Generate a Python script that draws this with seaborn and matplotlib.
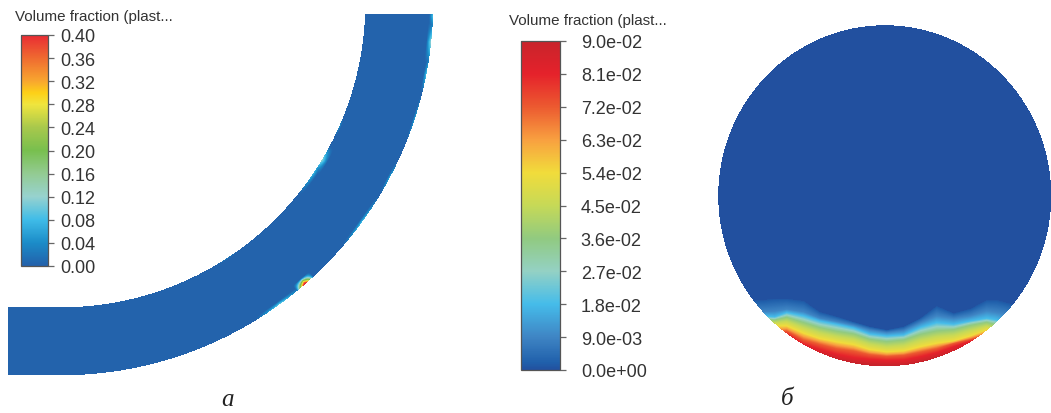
# Volume fraction fields: bend of the pipe (a) and pipe cross section (б)
import numpy as np
import seaborn as sns
import matplotlib.pyplot as plt
from matplotlib.colors import LinearSegmentedColormap

W, H = 1051, 414

# colour scale a
levels_a = [0.0, 0.04, 0.08, 0.12, 0.16, 0.20, 0.24, 0.28, 0.30, 0.32, 0.36, 0.40]
colors_a = ['#2360aa', '#1b8cc8', '#3fbce8', '#97d2cf', '#93cb92', '#78bf4e',
            '#a8c84c', '#f0e53e', '#fdd017', '#f8a72f', '#ef6b30', '#e92b33']
ticks_a = [0.00, 0.04, 0.08, 0.12, 0.16, 0.20, 0.24, 0.28, 0.32, 0.36, 0.40]
ticklabels_a = ['0.00', '0.04', '0.08', '0.12', '0.16', '0.20', '0.24', '0.28', '0.32', '0.36', '0.40']

# colour scale б
levels_b = [0.0, 0.002, 0.009, 0.018, 0.027, 0.036, 0.045, 0.054, 0.063, 0.072, 0.081, 0.09]
colors_b = ['#22509f', '#2060ab', '#3f85c4', '#45bcea', '#94d1c4', '#91ca80',
            '#c6d957', '#f1dc3b', '#f8a040', '#ec5a30', '#e5222b', '#c8232b']
ticks_b = [0.0, 0.009, 0.018, 0.027, 0.036, 0.045, 0.054, 0.063, 0.072, 0.081, 0.09]
ticklabels_b = ['0.0e+00', '9.0e-03', '1.8e-02', '2.7e-02', '3.6e-02', '4.5e-02',
                '5.4e-02', '6.3e-02', '7.2e-02', '8.1e-02', '9.0e-02']

# bend a: background fraction and the spots at the wall
# angle from the downward direction (deg), half width (deg), peak, depth into wall (px)
base_a = 0.003
outer_angle = [41.0, 36.0, 54.0, 62.0, 72.0, 79.0, 84.0, 88.0]
outer_width = [1.7, 4.5, 5.0, 3.0, 4.0, 3.0, 3.5, 2.0]
outer_peak = [0.50, 0.11, 0.09, 0.07, 0.06, 0.09, 0.13, 0.09]
outer_depth = [7.0, 3.5, 3.0, 2.5, 2.0, 3.0, 5.0, 4.0]
inner_angle = [59.0, 56.0, 66.0, 33.0]
inner_width = [3.0, 5.0, 2.0, 3.0]
inner_peak = [0.13, 0.08, 0.05, 0.03]
inner_depth = [6.0, 4.0, 2.0, 1.5]

# section б: rows of each iso-line, read at stations across the disc
station_x = [-135, -121, -110, -98, -81, -65, -48, -31, -15, 2, 19, 36, 52, 69, 86, 102, 112, 122, 135]
line_001 = [92, 92, 88, 88, 95, 128, 142, 158, 172, 182, 172, 146, 110, 132, 118, 92, 92, 100, 110]
line_009 = [128, 128, 126, 120, 128, 147, 157, 168, 182, 190, 184, 160, 140, 148, 140, 125, 130, 135, 135]
line_018 = [140, 140, 143, 130, 140, 155, 165, 176, 194, 200, 197, 174, 160, 165, 155, 147, 152, 168, 168]
line_027 = [146, 146, 148, 137, 150, 165, 175, 185, 202, 208, 204, 184, 172, 173, 161, 153, 159, 173, 173]
line_036 = [150, 150, 152, 144, 160, 175, 186, 194, 210, 217, 212, 195, 185, 181, 168, 159, 167, 178, 178]
line_045 = [160, 160, 160, 156, 175, 190, 201, 209, 224, 232, 228, 212, 202, 197, 183, 170, 178, 184, 184]
line_054 = [170, 170, 170, 170, 192, 208, 218, 226, 241, 248, 245, 232, 222, 215, 200, 182, 190, 190, 190]
line_063 = [180, 180, 180, 178, 202, 216, 228, 236, 249, 255, 252, 240, 230, 219, 205, 189, 195, 195, 195]
line_072 = [190, 190, 190, 185, 212, 225, 238, 245, 256, 261, 258, 248, 238, 222, 210, 195, 200, 200, 200]
line_081 = [200, 200, 200, 195, 225, 240, 255, 265, 270, 273, 272, 262, 250, 232, 215, 205, 210, 210, 210]
line_090 = [215, 215, 215, 210, 240, 255, 270, 280, 285, 288, 287, 277, 265, 247, 230, 220, 225, 225, 225]
iso_levels = [0.0008, 0.009, 0.018, 0.027, 0.036, 0.045, 0.054, 0.063, 0.072, 0.081, 0.09]
iso_lines = [line_001, line_009, line_018, line_027, line_036, line_045,
             line_054, line_063, line_072, line_081, line_090]

sns.set_theme(style='white')
plt.rcParams['font.family'] = ['Liberation Sans', 'DejaVu Sans']
plt.rcParams['text.color'] = '#333333'


def px_axes(fig, x0, y0, x1, y1):
    # axes from a box in picture pixels
    return fig.add_axes([x0 / W, 1 - y1 / H, (x1 - x0) / W, (y1 - y0) / H])


def make_cmap(name, levels, colors):
    stops = [v / levels[-1] for v in levels]
    return LinearSegmentedColormap.from_list(name, list(zip(stops, colors)), N=512)


def field_heatmap(fig, field, mask, box, cbar_box, cmap, vmax, ticks, labels, pad):
    ax = px_axes(fig, *box)
    cax = px_axes(fig, *cbar_box)
    sns.heatmap(field, mask=mask, cmap=cmap, vmin=0, vmax=vmax, ax=ax, cbar_ax=cax,
                xticklabels=False, yticklabels=False)
    ax.patch.set_visible(False)
    cbar = ax.collections[0].colorbar
    cbar.set_ticks(ticks, labels=labels)
    cbar.ax.tick_params(right=True, length=4, width=0.9, color='#666666', pad=pad,
                        labelsize=13, labelcolor='#333333')
    cbar.outline.set_visible(True)
    cbar.outline.set_edgecolor('#555555')
    cbar.outline.set_linewidth(0.9)
    return ax


fig = plt.figure(figsize=(W / 100, H / 100), dpi=100, facecolor='white')

# --- a: bend with the straight part on the left
box_a = (8, 15, 434, 377)
cx, cy, r_in, r_out = 61.0, 4.0, 304.0, 372.0
xx, yy = np.meshgrid(np.arange(box_a[0], box_a[2], 0.5) + 0.25,
                     np.arange(box_a[1], box_a[3], 0.5) + 0.25)
dx = xx - cx
dy = yy - cy
rr = np.where(dx > 0, np.hypot(dx, dy), dy)
angle = np.degrees(np.arctan2(np.maximum(dx, 0), dy))
mask_a = (rr < r_in) | (rr > r_out)

field_a = np.full(xx.shape, base_a)
for th, wd, pk, dp in zip(outer_angle, outer_width, outer_peak, outer_depth):
    spot = pk * np.clip(1 - np.abs(angle - th) / wd, 0, 1) * np.clip(1 - (r_out - rr) / dp, 0, 1)
    field_a = np.maximum(field_a, spot)
for th, wd, pk, dp in zip(inner_angle, inner_width, inner_peak, inner_depth):
    spot = pk * np.clip(1 - np.abs(angle - th) / wd, 0, 1) * np.clip(1 - (rr - r_in) / dp, 0, 1)
    field_a = np.maximum(field_a, spot)

field_heatmap(fig, field_a, mask_a, box_a, (21, 36, 48, 267),
              make_cmap('bar_a', levels_a, colors_a), 0.40, ticks_a, ticklabels_a, 5)

# --- б: disc, iso-lines filled column by column
box_b = (718, 26, 1051, 367)
rows = np.arange(box_b[1], box_b[3], 0.5) + 0.25
cols = np.arange(box_b[0], box_b[2], 0.5) + 0.25
centre_x, centre_y, half_w, half_h = 884.5, 196.5, 166.5, 170.5
field_b = np.zeros((rows.size, cols.size))
for j, col in enumerate(cols):
    # crop rows measured in the zoomed view, back to picture rows
    at_col = [270 + np.interp(col - centre_x, station_x, line) / 3 for line in iso_lines]
    field_b[:, j] = np.interp(rows, at_col, iso_levels, left=0.0, right=0.09)
gx, gy = np.meshgrid(cols, rows)
mask_b = ((gx - centre_x) / half_w) ** 2 + ((gy - centre_y) / half_h) ** 2 > 1

field_heatmap(fig, field_b, mask_b, box_b, (521, 42, 560, 371),
              make_cmap('bar_b', levels_b, colors_b), 0.09, ticks_b, ticklabels_b, 11)

# titles of the bars and panel letters
fig.text(15 / W, 1 - 17 / H, 'Volume fraction (plast...', fontsize=10.9, va='center', ha='left')
fig.text(509 / W, 1 - 21 / H, 'Volume fraction (plast...', fontsize=10.9, va='center', ha='left')
fig.text(227 / W, 1 - 400 / H, 'а', fontsize=18, style='italic', family='Liberation Serif',
         color='#222222', va='center', ha='center')
fig.text(787 / W, 1 - 399 / H, 'б', fontsize=18, style='italic', family='Liberation Serif',
         color='#222222', va='center', ha='center')

fig.savefig('out.png', dpi=100, facecolor='white')
